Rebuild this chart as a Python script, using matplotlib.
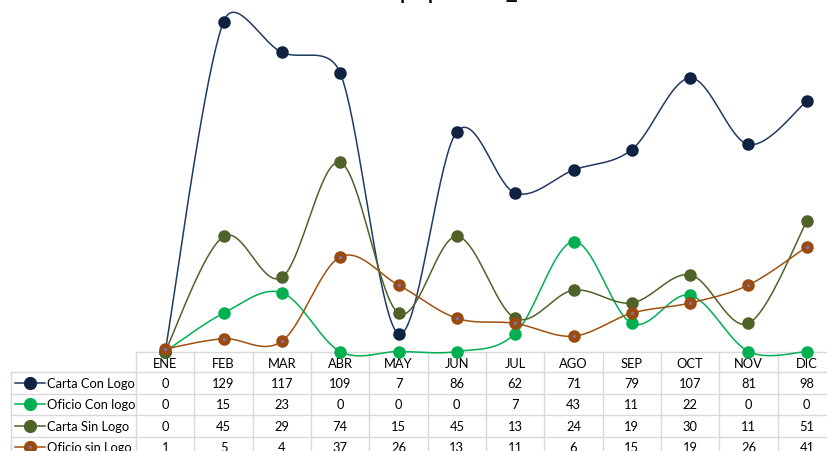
import numpy as np
import matplotlib
matplotlib.use("Agg")
import matplotlib.pyplot as plt

meses = ["ENE", "FEB", "MAR", "ABR", "MAY", "JUN", "JUL", "AGO", "SEP", "OCT", "NOV", "DIC"]
series = ["Carta Con Logo", "Oficio Con logo", "Carta Sin Logo", "Oficio sin Logo"]
carta_con_logo = [0, 129, 117, 109, 7, 86, 62, 71, 79, 107, 81, 98]
oficio_con_logo = [0, 15, 23, 0, 0, 0, 7, 43, 11, 22, 0, 0]
carta_sin_logo = [0, 45, 29, 74, 15, 45, 13, 24, 19, 30, 11, 51]
oficio_sin_logo = [1, 5, 4, 37, 26, 13, 11, 6, 15, 19, 26, 41]

valores = [carta_con_logo, oficio_con_logo, carta_sin_logo, oficio_sin_logo]
lineas = ["#1f3a63", "#00b050", "#4f6228", "#a0500f"]
puntos = ["#0f2242", "#00b050", "#4f6228", "#9c4a0d"]

plt.rcParams["font.family"] = ["Lato", "DejaVu Sans"]

W, H = 827, 452
fig = plt.figure(figsize=(W / 100, H / 100), dpi=100)

x0, x1 = 136, 836
ybase = 352.5
escala = 2.556  # px por unidad
ax = fig.add_axes([x0 / W, (H - ybase) / H, (x1 - x0) / W, ybase / H])
ax.set_xlim(-0.5, 11.5)
ax.set_ylim(0, ybase / escala)
ax.axis("off")
sx = (x1 - x0) / 12.0  # px por mes


# curva suave parecida a la de excel: catmull-rom, con los puntos de control
# limitados a la mitad del tramo (en pixeles)
def suave(y, n=40):
    P = np.column_stack([np.arange(len(y)) * sx, np.asarray(y, float) * escala])
    xs, ys = [], []
    for i in range(len(P) - 1):
        p0 = P[max(i - 1, 0)]
        p1, p2 = P[i], P[i + 1]
        p3 = P[min(i + 2, len(P) - 1)]
        lim = np.hypot(*(p2 - p1)) / 2
        t1 = (p2 - p0) / 6
        t2 = (p3 - p1) / 6
        if np.hypot(*t1) > lim:
            t1 = t1 * lim / np.hypot(*t1)
        if np.hypot(*t2) > lim:
            t2 = t2 * lim / np.hypot(*t2)
        c1, c2 = p1 + t1, p2 - t2
        s = np.linspace(0, 1, n)[:, None]
        b = (1 - s) ** 3 * p1 + 3 * (1 - s) ** 2 * s * c1 + 3 * (1 - s) * s ** 2 * c2 + s ** 3 * p2
        xs.extend(b[:, 0] / sx)
        ys.extend(b[:, 1] / escala)
    return np.array(xs), np.array(ys)


for vals, lc, mc in zip(valores, lineas, puntos):
    xs, ys = suave(vals)
    ax.plot(xs, ys, color=lc, lw=1.1, clip_on=False, zorder=2)
    ax.plot(range(12), vals, ls="none", marker="o", ms=8, mfc=mc, mec=mc, clip_on=False, zorder=3)
# punto central morado en la ultima serie
ax.plot(range(12), oficio_sin_logo, ls="none", marker="o", ms=1.5, color="#7f6fb0", clip_on=False, zorder=4)

# titulo (casi todo fuera del cuadro)
fig.text(0.5, 1 + 2 / H, "Consumo de papeleria_2023", ha="center", va="baseline", fontsize=19)

# tabla de datos
tb = fig.add_axes([0, 0, 1, 1], zorder=-1)
tb.set_xlim(0, W)
tb.set_ylim(H, 0)
tb.axis("off")

fig.canvas.draw()
centros = [ax.transData.transform((i, 0))[0] for i in range(12)]
ancho = centros[1] - centros[0]
bordes = [centros[0] - ancho / 2 + k * ancho for k in range(13)]
filas = [352.5, 373, 394.5, 416, 437.5, 459]
izq = 10.7
gris = "#d9d9d9"

tb.plot([bordes[0], bordes[-1]], [filas[0], filas[0]], color=gris, lw=1)
for f in filas[1:]:
    tb.plot([izq, bordes[-1]], [f, f], color=gris, lw=1)
for b in bordes:
    tb.plot([b, b], [filas[0], filas[-1]], color=gris, lw=1)
tb.plot([izq, izq], [filas[1], filas[-1]], color=gris, lw=1)

fs = 9.3
for c, m in zip(centros, meses):
    tb.text(c, (filas[0] + filas[1]) / 2 + 1, m, ha="center", va="center", fontsize=fs)
for r, (nom, vals, lc, mc) in enumerate(zip(series, valores, lineas, puntos)):
    yc = (filas[r + 1] + filas[r + 2]) / 2
    tb.plot([15, 45], [yc, yc], color=lc, lw=1.1)
    tb.plot([30], [yc], marker="o", ms=8.5, color=mc)
    tb.text(47, yc, nom, ha="left", va="center", fontsize=fs)
    for c, v in zip(centros, vals):
        tb.text(c, yc, str(v), ha="center", va="center", fontsize=fs)
tb.plot([30], [(filas[4] + filas[5]) / 2], marker="o", ms=1.5, color="#7f6fb0")

fig.savefig("out.png", dpi=100)
